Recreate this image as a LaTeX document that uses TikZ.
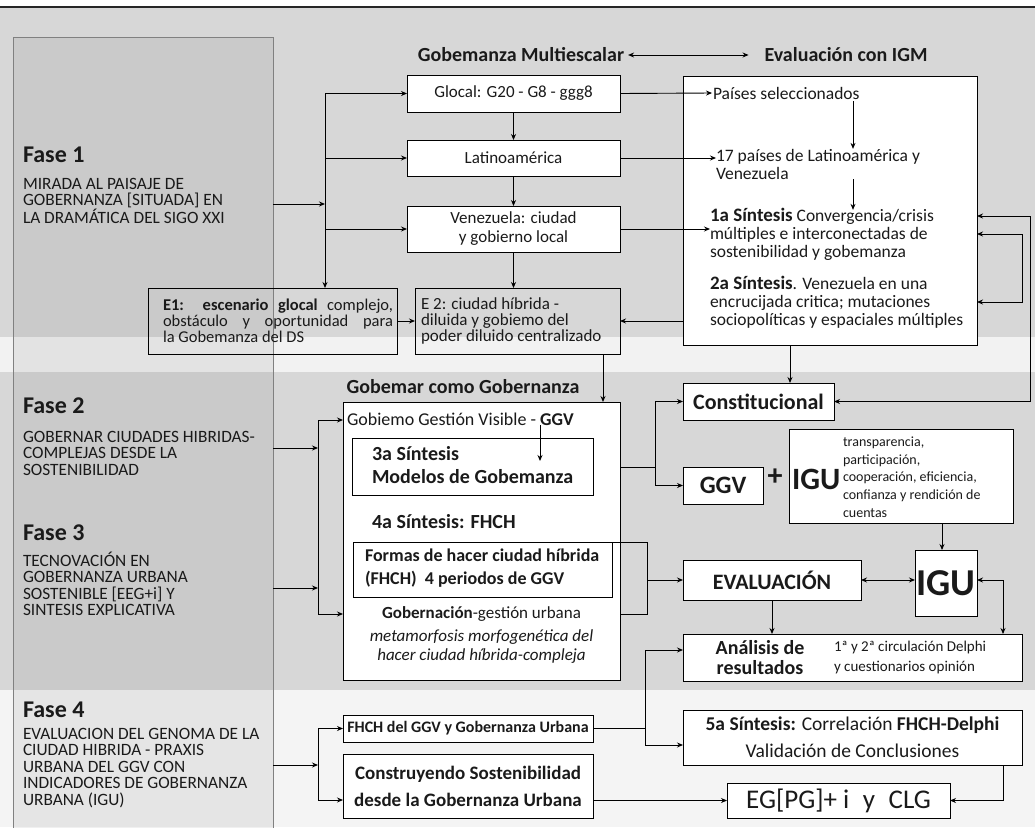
\documentclass[tikz,border=0pt]{standalone}
\usepackage{fontspec}
\setmainfont{Carlito}
\usetikzlibrary{arrows.meta}
\definecolor{bandA}{HTML}{D7D7D7}
\definecolor{bandB}{HTML}{F2F2F2}
\definecolor{bandC}{HTML}{F4F4F4}
\definecolor{txtc}{HTML}{1A1A1A}
\definecolor{panelb}{HTML}{808080}
\newcommand{\fsA}{\fontsize{17}{19}\selectfont}
\newcommand{\fsB}{\fontsize{17.5}{18}\selectfont}
\newcommand{\fsS}{\fontsize{20}{23}\selectfont}
\newcommand{\fsE}{\fontsize{16.5}{16}\selectfont}
\newcommand{\fsEE}{\fontsize{17}{16}\selectfont}
\newcommand{\fsF}{\fontsize{18}{23}\selectfont}
\newcommand{\fsD}{\fontsize{14}{17.75}\selectfont}
\newcommand{\fsP}{\fontsize{17.3}{16.5}\selectfont}
\tikzset{
 box/.style={draw=black, line width=0.9pt, fill=white, inner sep=0pt, outer sep=0pt, text=txtc},
 obox/.style={draw=black, line width=0.9pt, inner sep=0pt, outer sep=0pt},
 arr/.style={line width=0.9pt, -{Stealth[length=6pt,width=5pt]}},
 darr/.style={line width=0.9pt, {Stealth[length=6pt,width=5pt]}-{Stealth[length=6pt,width=5pt]}},
 ln/.style={line width=0.9pt},
 txt/.style={inner sep=0pt, outer sep=0pt, text=txtc},
 fase/.style={txt, font=\fontsize{24}{26}\selectfont\bfseries, anchor=west},
 fdesc/.style={txt, font=\fsP, align=left, anchor=west},
 ttl/.style={txt, font=\fontsize{20}{22}\selectfont\bfseries},
 panelst/.style={draw=panelb, line width=0.7pt, fill=black, fill opacity=0.06, inner sep=0pt, outer sep=0pt},
}
\begin{document}
\begin{tikzpicture}[x=1pt,y=-1pt]
\useasboundingbox (0,0) rectangle (1035,827);
% backgrounds
\fill[white] (0,0) rectangle (1035,827);
\fill[bandA] (0,7) rectangle (1035,337);
\draw[line width=1.2pt, black!85] (0,7) -- (1035,7);
\fill[bandB] (0,337) rectangle (1035,372);
\fill[bandA] (0,372) rectangle (1035,690);
\fill[bandC] (0,690) rectangle (1035,827);
% left panel
\node[panelst, minimum width=260pt, minimum height=803pt] (panel) at (143,438.5) {};
% phase texts
\node[fase] (f1) at (23,155) {Fase 1};
\node[fdesc] (d1) at (23,201) {MIRADA AL PAISAJE DE\\GOBERNANZA [SITUADA] EN\\LA DRAMÁTICA DEL SIGO XXI};
\node[fase] (f2) at (23,406) {Fase 2};
\node[fdesc] (d2) at (23,453) {GOBERNAR CIUDADES HIBRIDAS-\\COMPLEJAS DESDE LA\\SOSTENIBILIDAD};
\node[fase] (f3) at (23,533) {Fase 3};
\node[fdesc] (d3) at (23,584) {TECNOVACIÓN EN\\GOBERNANZA URBANA\\SOSTENIBLE [EEG+i] Y\\SINTESIS EXPLICATIVA};
\node[fase] (f4) at (23,710) {Fase 4};
\node[fdesc] (d4) at (23,768) {EVALUACION DEL GENOMA DE LA\\CIUDAD HIBRIDA - PRAXIS\\URBANA DEL GGV CON\\INDICADORES DE GOBERNANZA\\URBANA (IGU)};
% titles
\node[ttl] (tgm) at (521,55) {Gobemanza Multiescalar};
\node[ttl] (tev) at (846,55) {Evaluación con IGM};
\draw[darr, shorten <=4pt, shorten >=16pt] (tgm.east) -- (tev.west);
% multiscale column
\node[box, minimum width=213pt, minimum height=37pt, font=\fsA] (glocal) at (513.5,93.5) {Glocal: G20 - G8 - ggg8};
\node[box, minimum width=213pt, minimum height=36pt, font=\fsA] (latam) at (513.5,158) {Latinoamérica};
\node[box, minimum width=213pt, minimum height=46pt, font=\fsA, align=center] (venez) at (513.5,229) {Venezuela: ciudad\\y gobierno local};
\node[obox, minimum width=249pt, minimum height=66pt] (e1) at (272.5,321) {};
\node[txt, font=\fsE, align=left, anchor=west] (e1t) at (163,321) {\makebox[230pt][s]{\textbf{E1:}\ \ \textbf{escenario glocal} complejo,}\\\makebox[230pt][s]{obstáculo y oportunidad para}\\la Gobemanza del DS};
\node[obox, minimum width=205pt, minimum height=66pt] (e2) at (517.5,321) {};
\node[txt, font=\fsEE, align=left, anchor=west] (e2t) at (421,321) {E 2: ciudad híbrida -\\diluida y gobiemo del\\poder diluido centralizado};
% bus 1
\coordinate (b1t) at (325,93.5);
\coordinate (b1m) at (325,204);
\draw[ln] (b1t) -- (b1t |- latam.west);
\draw[arr] (b1t |- latam.west) -- (b1t |- e1.north);
\draw[arr] (panel.east |- b1m) -- (b1m);
\draw[arr] (b1t) -- (glocal.west);
\draw[arr] (b1t |- latam.west) -- (latam.west);
\draw[arr] (b1t |- venez.west) -- (venez.west);
\draw[arr] (glocal.south) -- (latam.north);
\draw[arr] (latam.south) -- (venez.north);
\draw[arr] (venez.south) -- (venez.south |- e2.north);
\draw[arr] (e1.east) -- (e2.west);
% evaluation box
\node[box, minimum width=294pt, minimum height=269pt] (evb) at (830,210.5) {};
\node[txt, font=\fsB, anchor=west] (paises) at (713,93) {Países seleccionados};
\node[txt, font=\fsB, align=left, anchor=west] (p17) at (716,164) {17 países de Latinoamérica y\\Venezuela};
\node[txt, font=\fsB, align=left, anchor=west] (s1) at (710,234) {{\fontsize{19}{18}\selectfont\bfseries 1a Síntesis} Convergencia/crisis\\múltiples e interconectadas de\\sostenibilidad y gobemanza};
\node[txt, font=\fsB, align=left, anchor=west] (s2) at (710,302) {{\fontsize{19}{18}\selectfont\bfseries 2a Síntesis}. Venezuela en una\\encrucijada critica; mutaciones\\sociopolíticas y espaciales múltiples};
\coordinate (c853) at (853,0);
\draw[arr, shorten <=2pt] (paises.south -| c853) -- (p17.north -| c853);
\draw[arr] (p17.south -| c853) -- ([yshift=-2pt]s1.north -| c853);
\draw[arr, shorten >=1pt] (glocal.east) -- (paises.west);
\draw[arr] (latam.east) -- (latam.east -| p17.west);
\draw[arr] (venez.east) -- (venez.east -| s1.west);
\draw[arr] (evb.west |- e2.east) -- (e2.east);
% right loops
\node[box, minimum width=151pt, minimum height=37pt, font=\fontsize{22}{24}\selectfont\bfseries] (cons) at (758.5,401.5) {Constitucional};
\coordinate (lo1) at (1030,216);
\draw[darr] (evb.east |- lo1) -- (lo1) -- (lo1 |- cons.east) -- (cons.east);
\coordinate (li1) at (1022,234);
\coordinate (li2) at (1022,302);
\draw[darr] (evb.east |- li1) -- (li1) -- (li2) -- (evb.east |- li2);
\coordinate (c790) at (790,0);
\draw[arr] (evb.south -| c790) -- (cons.north -| c790);
% gobernar section
\node[ttl] (tgob) at (463,387) {Gobemar como Gobernanza};
\node[box, minimum width=277pt, minimum height=278pt] (gob) at (481.5,541) {};
\draw[arr] ([xshift=-17pt]e2.south east) -- ([xshift=-17pt]gob.north east);
\node[txt, font=\fontsize{18}{19}\selectfont, anchor=west] (ggvl) at (347,419) {Gobiemo Gestión Visible - \textbf{GGV}};
\node[box, minimum width=241pt, minimum height=57pt] (s3b) at (472.5,466.5) {};
\node[txt, font=\fsS\bfseries, align=left, anchor=west] (s3t) at (372,465) {3a Síntesis\\Modelos de Gobemanza};
\coordinate (s3tip) at (540,461);
\draw[arr] (ggvl.south -| s3tip) -- (s3tip);
\node[txt, font=\fsS\bfseries, anchor=west] (s4t) at (372,522) {4a Síntesis: FHCH};
\node[box, minimum width=259pt, minimum height=55pt] (formas) at (482.5,569.5) {};
\node[txt, font=\fsF\bfseries, align=left, anchor=west] (formast) at (365,568) {Formas de hacer ciudad híbrida\\(FHCH)\ \ 4 periodos de GGV};
\node[txt, font=\fsA] (gobn) at (481.5,614) {\textbf{Gobernación}-gestión urbana};
\node[txt, font=\fontsize{17}{19}\selectfont\itshape, align=center] (meta) at (481.5,647) {metamorfosis morfogenética del\\hacer ciudad híbrida-compleja};
% bus 2
\coordinate (b2t) at (318,420);
\coordinate (b2b) at (318,614);
\coordinate (b2a) at (318,448);
\coordinate (b2c) at (318,588);
\draw[ln] (b2t) -- (b2b);
\draw[arr] (panel.east |- b2a) -- (b2a);
\draw[arr] (panel.east |- b2c) -- (b2c);
\draw[arr] (b2t) -- (b2t -| gob.west);
\draw[arr] (b2b) -- (b2b -| gob.west);
% right column
\node[box, minimum width=80pt, minimum height=37pt, font=\fontsize{25}{27}\selectfont\bfseries] (ggvb) at (723,485.5) {GGV};
\node[txt, font=\fontsize{30}{30}\selectfont\bfseries] (plus) at (775,477) {+};
\node[box, minimum width=224pt, minimum height=94pt] (igud) at (901,476) {};
\node[txt, font=\fontsize{31}{31}\selectfont\bfseries, anchor=west] (igut) at (792,479) {IGU};
\node[txt, font=\fsD, align=left, anchor=west] (igul) at (843,477) {transparencia,\\participación,\\cooperación, eficiencia,\\confianza y rendición de\\cuentas};
\node[box, minimum width=62pt, minimum height=66pt, font=\fontsize{38}{38}\selectfont\bfseries] (igub) at (946,583) {IGU};
\node[box, minimum width=178pt, minimum height=40pt, font=\fontsize{22}{24}\selectfont\bfseries] (evalb) at (772,580) {EVALUACIÓN};
\node[box, minimum width=339pt, minimum height=47pt] (anal) at (852.5,657.5) {};
\node[txt, font=\fontsize{20}{20}\selectfont\bfseries, align=center] (analt) at (760,657.5) {Análisis de\\resultados};
\node[txt, font=\fontsize{15}{20}\selectfont, align=left, anchor=west] (analr) at (834,657.5) {1ª y 2ª circulación Delphi\\y cuestionarios opinión};
\coordinate (j1) at (655,467);
\draw[ln] (gob.east |- j1) -- (j1);
\draw[ln] (j1 |- cons.west) -- (j1 |- ggvb.west);
\draw[arr] (j1 |- cons.west) -- (cons.west);
\draw[arr] (j1 |- ggvb.west) -- (ggvb.west);
\coordinate (j2) at (647,580);
\draw[ln] (formas.north east) -- (formas.north east -| j2) -- (j2 |- gobn) -- (gob.east |- gobn);
\draw[arr] (j2) -- (evalb.west);
\coordinate (c942) at (942,0);
\draw[arr] (igud.south -| c942) -- (igub.north -| c942);
\draw[darr] (evalb.east) -- (evalb.east -| igub.west);
\coordinate (c1003) at (1003,0);
\draw[darr] (igub.east |- evalb.east) -- (c1003 |- evalb.east) -- (c1003 |- anal.north);
\draw[arr] (evalb.south) -- (evalb.south |- anal.north);
% bottom section
\node[box, minimum width=250pt, minimum height=27pt, font=\fontsize{16}{18}\selectfont\bfseries] (fhch) at (468,728.5) {FHCH del GGV y Gobernanza Urbana};
\node[box, minimum width=250pt, minimum height=64pt, font=\fontsize{19}{27}\selectfont\bfseries, align=center] (cons2) at (468,786) {Construyendo Sostenibilidad\\desde la Gobernanza Urbana};
\node[box, minimum width=339pt, minimum height=55pt, font=\fontsize{19.5}{27}\selectfont, align=center] (s5) at (852.5,737.5) {\textbf{5a Síntesis:} Correlación \textbf{FHCH-Delphi}\\Validación de Conclusiones};
\node[box, minimum width=223pt, minimum height=35pt, font=\fontsize{27}{29}\selectfont] (eg) at (838.5,800.5) {EG[PG]+ i\enspace y\enspace CLG};
\coordinate (b4t) at (318,728.5);
\coordinate (b4m) at (318,765);
\coordinate (b4b) at (318,800);
\draw[ln] (b4t) -- (b4b);
\draw[arr] (panel.east |- b4m) -- (b4m);
\draw[arr] (b4t) -- (fhch.west);
\draw[arr] (b4b) -- (b4b -| cons2.west);
\coordinate (ja) at (645,650);
\coordinate (jb) at (645,745);
\draw[ln] (fhch.east) -- (fhch.east -| ja);
\draw[ln] (ja) -- (jb);
\draw[arr] (ja) -- (ja -| anal.west);
\draw[arr] (jb) -- (jb -| s5.west);
\draw[arr] (cons2.east |- eg.west) -- (eg.west);
\draw[arr] (s5.south -| c1003) -- (c1003 |- eg.east) -- (eg.east);
\end{tikzpicture}
\end{document}
